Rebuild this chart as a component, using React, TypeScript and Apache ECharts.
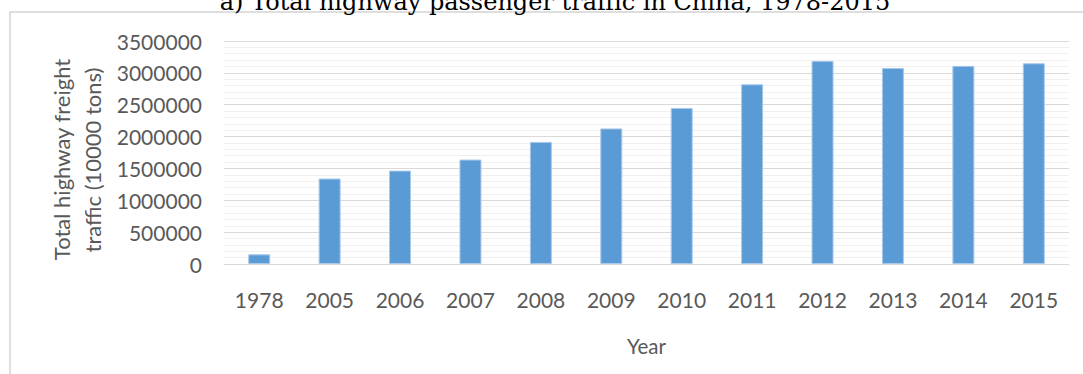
import React, { useEffect, useRef } from "react";
import * as echarts from "echarts";

// Highway freight traffic, 10000 tons
const years = ["1978", "2005", "2006", "2007", "2008", "2009", "2010", "2011", "2012", "2013", "2014", "2015"];
const freight = [151602, 1341778, 1466347, 1639432, 1916759, 2127834, 2448052, 2820100, 3188475, 3076648, 3110000, 3150019];
const yTicks = { min: 0, max: 3500000, interval: 500000 };

const titleText = "a) Total highway passenger traffic in China, 1978-2015";
const yTitleLines = ["Total highway freight", "traffic (10000 tons)"];
const xTitle = "Year";

const axisFont = "Lato, 'Open Sans', sans-serif";
const textGray = "#595959";

export default function App() {
  const ref = useRef<HTMLDivElement>(null);

  useEffect(() => {
    if (!ref.current) return;
    const chart = echarts.init(ref.current, undefined, { renderer: "svg" });
    chart.setOption({
      animation: false,
      backgroundColor: "#ffffff",
      grid: { left: 224, right: 14, top: 41, bottom: 110 },
      xAxis: {
        type: "category",
        data: years,
        name: xTitle,
        nameLocation: "middle",
        nameGap: 71,
        nameTextStyle: { fontFamily: axisFont, fontSize: 20.5, color: textGray },
        axisLine: { show: true, lineStyle: { color: "#d9d9d9", width: 1 } },
        axisTick: { show: false },
        axisLabel: { fontFamily: axisFont, fontSize: 21, color: textGray, margin: 25 },
        splitLine: { show: false },
      },
      yAxis: {
        type: "value",
        min: yTicks.min,
        max: yTicks.max,
        interval: yTicks.interval,
        axisLine: { show: false },
        axisTick: { show: false },
        axisLabel: {
          fontFamily: axisFont,
          fontSize: 21,
          color: textGray,
          margin: 22,
          formatter: (v: number) => String(v),
        },
        splitLine: { show: true, lineStyle: { color: "#d9d9d9", width: 1 } },
        minorTick: { show: false, splitNumber: 5 },
        minorSplitLine: { show: true, lineStyle: { color: "#f0f0f0", width: 1 } },
      },
      series: [
        {
          type: "bar",
          data: freight,
          barWidth: 22,
          itemStyle: { color: "#5B9BD5", borderColor: "#A9C8EA", borderWidth: 1 },
        },
      ],
      graphic: [
        {
          type: "rect",
          shape: { x: 10, y: 12, width: 1120, height: 420 },
          style: { fill: "none", stroke: "#d4d4d4", lineWidth: 1.5 },
          silent: true,
        },
        {
          type: "text",
          x: 555,
          y: 14,
          style: {
            text: titleText,
            fontFamily: "'DejaVu Serif', serif",
            fontSize: 24,
            fill: "#000000",
            textAlign: "center",
            textVerticalAlign: "bottom",
          },
        },
        {
          type: "text",
          x: 61,
          y: 159.5,
          rotation: Math.PI / 2,
          style: {
            text: yTitleLines[0],
            fontFamily: axisFont,
            fontSize: 22,
            fill: textGray,
            textAlign: "center",
            textVerticalAlign: "middle",
          },
        },
        {
          type: "text",
          x: 92,
          y: 160,
          rotation: Math.PI / 2,
          style: {
            text: yTitleLines[1],
            fontFamily: axisFont,
            fontSize: 22,
            fill: textGray,
            textAlign: "center",
            textVerticalAlign: "middle",
          },
        },
      ],
    });
    return () => chart.dispose();
  }, []);

  return (
    <div
      ref={ref}
      style={{ position: "fixed", left: 0, top: 0, width: 1083, height: 374 }}
    />
  );
}
